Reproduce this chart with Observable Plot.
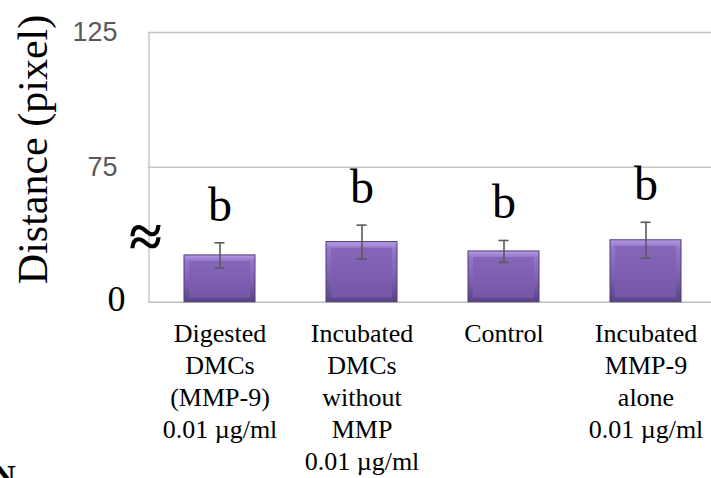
<!DOCTYPE html>
<html>
<head>
<meta charset="utf-8">
<script src="https://cdn.jsdelivr.net/npm/d3@7"></script>
<script src="https://cdn.jsdelivr.net/npm/@observablehq/plot@0.6"></script>
<style>
  html, body { margin: 0; padding: 0; background: #fff; }
  svg { display: block; }
</style>
</head>
<body>
<div id="chart"></div>
<script>
// ---- data ----
const categories = [
  "Digested\nDMCs\n(MMP-9)\n0.01 µg/ml",
  "Incubated\nDMCs\nwithout\nMMP\n0.01 µg/ml",
  "Control",
  "Incubated\nMMP-9\nalone\n0.01 µg/ml"
];
const means = [26.0, 33.4, 28.2, 34.4];
const errors = [7.0, 9.4, 6.1, 10.0];
const letters = ["b", "b", "b", "b"];
const yTicks = [0, 75, 125];
const yTickLabels = ["0", "75", "125"];
const yLabel = "Distance (pixel)";
const breakSymbol = ["≈"];
const breakValue = [36];

const data = categories.map((c, i) => ({cat: c, mean: means[i], err: errors[i], letter: letters[i]}));
const ticks = yTicks.map((v, i) => ({v, label: yTickLabels[i]}));

const serif = "'Times New Roman', 'Liberation Serif', serif";
const sans = "'Liberation Sans', Arial, sans-serif";

const chart = Plot.plot({
  width: 711,
  height: 478,
  marginLeft: 148,
  marginTop: 32,
  marginRight: 0,
  marginBottom: 176,
  style: {fontFamily: serif, background: "#fff", overflow: "hidden"},
  x: {type: "band", domain: categories, range: [148, 716], paddingInner: 0.5, paddingOuter: 0.25, axis: null},
  y: {type: "linear", domain: [0, 75, 125], range: [301.7, 166.7, 32], axis: null},
  marks: [
    // gridlines
    Plot.ruleY(ticks.filter(d => d.v > 0), {y: "v", stroke: "#c4c4c4", strokeWidth: 1.4}),
    // baseline
    Plot.ruleY([0], {stroke: "#bdbdbd", strokeWidth: 1.6}),
    // left axis line (one band to the left of the first bar's centre)
    Plot.ruleX([categories[0]], {x: d => d, y1: 0, y2: 125, dx: -71, stroke: "#c4c4c4", strokeWidth: 1.4}),
    // gray tick labels
    Plot.text(ticks.filter(d => d.v > 0), {y: "v", text: "label", frameAnchor: "left", textAnchor: "end", dx: -31, fontSize: 27, fontFamily: sans, fill: "#595959"}),
    // zero label
    Plot.text(ticks.filter(d => d.v === 0), {y: "v", text: "label", frameAnchor: "left", textAnchor: "end", dx: -23, dy: -3, fontSize: 36, fill: "#000"}),
    // bars: outer bevel
    Plot.barY(data, {x: "cat", y: "mean", fill: "url(#bevelGrad)", stroke: "#4e3c72", strokeWidth: 1}),
    // bars: inner face
    Plot.barY(data, {x: "cat", y: "mean", fill: "url(#faceGrad)", insetTop: 6, insetLeft: 5, insetRight: 5, insetBottom: 4}),
    // error bars
    Plot.ruleX(data, {x: "cat", y1: d => d.mean - d.err, y2: d => d.mean + d.err, stroke: "#5a5a5a", strokeWidth: 1.6}),
    Plot.tickY(data, {x: "cat", y: d => d.mean + d.err, stroke: "#5a5a5a", strokeWidth: 1.6, insetLeft: 30.5, insetRight: 30.5}),
    Plot.tickY(data, {x: "cat", y: d => d.mean - d.err, stroke: "#5a5a5a", strokeWidth: 1.6, insetLeft: 30.5, insetRight: 30.5}),
    // significance letters
    Plot.text(data, {x: "cat", y: d => d.mean + d.err, text: "letter", lineAnchor: "bottom", dy: -22, fontSize: 48, fill: "#000"}),
    // category labels
    Plot.text(data, {x: "cat", text: "cat", frameAnchor: "bottom", lineAnchor: "top", lineHeight: 1.23, dy: 16.5, fontSize: 26, fill: "#000"}),
    // axis break symbol
    Plot.text(breakSymbol, {y: () => breakValue[0], text: d => d, frameAnchor: "left", textAnchor: "middle", lineAnchor: "middle", dx: -3, fontSize: 60, fontWeight: "bold", fill: "#000"}),
    // y label
    Plot.text([yLabel], {frameAnchor: "top-left", rotate: -90, textAnchor: "middle", lineAnchor: "middle", dx: -115, dy: 117, fontSize: 42, fill: "#000"}),
    // stray cropped glyph at bottom-left
    Plot.text(["N"], {frameAnchor: "bottom-left", textAnchor: "start", lineAnchor: "bottom", dx: -156, dy: 184, fontSize: 32, fontWeight: "bold", fill: "#000"})
  ]
});

// gradients for the bevelled bars
const ns = "http://www.w3.org/2000/svg";
const defs = document.createElementNS(ns, "defs");
defs.innerHTML = `
  <linearGradient id="bevelGrad" x1="0" y1="0" x2="0" y2="1">
    <stop offset="0" stop-color="#b59ce3"/>
    <stop offset="0.12" stop-color="#9678cb"/>
    <stop offset="0.6" stop-color="#7d5fb0"/>
    <stop offset="1" stop-color="#5a4388"/>
  </linearGradient>
  <linearGradient id="faceGrad" x1="0" y1="0" x2="0" y2="1">
    <stop offset="0" stop-color="#8666b9"/>
    <stop offset="1" stop-color="#7557a8"/>
  </linearGradient>`;
chart.insertBefore(defs, chart.firstChild);
document.getElementById("chart").appendChild(chart);
</script>
</body>
</html>
